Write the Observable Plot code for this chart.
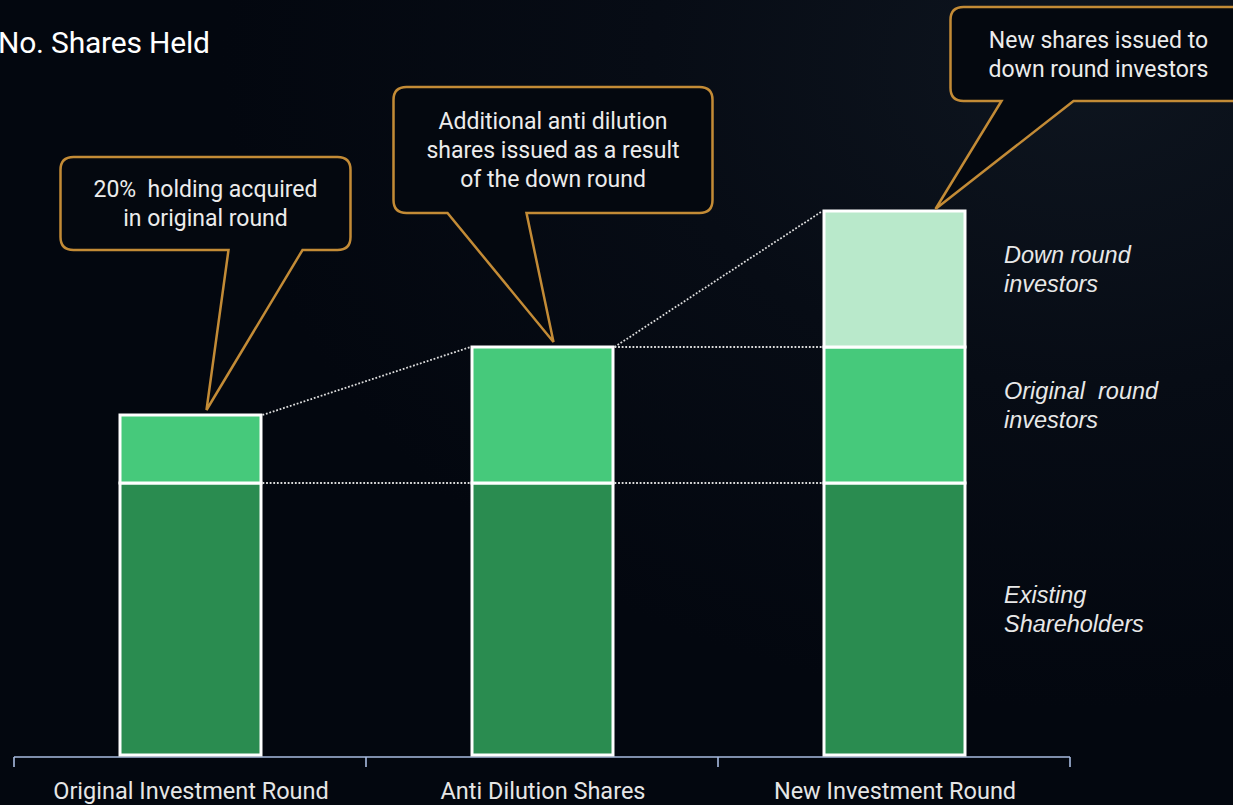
<!DOCTYPE html>
<html>
<head>
<meta charset="utf-8">
<script src="https://cdn.jsdelivr.net/npm/d3@7"></script>
<script src="https://cdn.jsdelivr.net/npm/@observablehq/plot@0.6"></script>
<style>
html, body { margin: 0; padding: 0; }
body {
  width: 1233px; height: 805px; overflow: hidden; position: relative;
  background: radial-gradient(ellipse 70% 80% at 88% 8%, #0e151f 0%, #070c15 50%, #03070f 100%);
  font-family: Roboto, "Noto Sans", sans-serif;
}
#chart { position: absolute; left: 0; top: 0; }
#title {
  position: absolute; left: -2px; top: 25px;
  font-size: 30px; line-height: 35px; color: #ffffff; letter-spacing: -0.2px;
}
</style>
</head>
<body>
<div id="chart"></div>
<div id="title">No. Shares Held</div>
<script>
// ---- data ----
const rounds = ["Original Investment Round", "Anti Dilution Shares", "New Investment Round"];
const groups = ["Existing Shareholders", "Original round investors", "Down round investors"];
const existing = [80, 80, 80];
const originalRound = [20, 40, 40];
const downRound = [0, 0, 40];
const segmentLabels = ["Existing\nShareholders", "Original\u00a0 round\ninvestors", "Down round\ninvestors"];
const calloutTexts = [
  "20%\u00a0 holding acquired\nin original round",
  "Additional anti dilution\nshares issued as a result\nof the down round",
  "New shares issued to\ndown round investors"
];

// ---- styles / layout ----
const groupColors = ["#2a8c50", "#46c97b", "#b9e9cb"];
const calloutLayout = [
  {tip: [16, -5], box: [-146, -253, 144, -160], tail: [22, 96]},
  {tip: [11, -5], box: [-160, -255, 159, -129], tail: [-106, -27]},
  {tip: [41, -2], box: [15, -202, 311, -108], tail: [66, 138]}
];

const series = [existing, originalRound, downRound];
const table = [];
rounds.forEach((r, i) => {
  groups.forEach((g, j) => {
    if (series[j][i] > 0) table.push({round: r, group: g, value: series[j][i]});
  });
});
const totals = rounds.map((r, i) => series.reduce((s, a) => s + a[i], 0));
const levels = rounds.map((r, i) => {
  let c = 0; const out = [];
  series.forEach(a => { if (a[i] > 0) { c += a[i]; out.push(c); } });
  return out;
});

// axis line + boundary ticks
function axisMark(index, scales) {
  const x = scales.x, y = scales.y;
  const [r0, r1] = x.range();
  const step = x.step();
  const y0 = y(0) + 2;
  const g = d3.create("svg:g").attr("stroke", "#a9bce0").attr("stroke-width", 1.6).attr("fill", "none");
  g.append("line").attr("x1", r0).attr("x2", r1).attr("y1", y0).attr("y2", y0);
  for (let i = 0; i <= rounds.length; i++) {
    const xx = r0 + i * step;
    g.append("line").attr("x1", xx).attr("x2", xx).attr("y1", y0).attr("y2", y0 + 10);
  }
  return g.node();
}

// dotted connectors between bars
function connectorMark(index, scales) {
  const x = scales.x, y = scales.y;
  const bw = x.bandwidth();
  const g = d3.create("svg:g").attr("stroke", "#dcdcdc").attr("stroke-width", 1.8)
    .attr("stroke-dasharray", "1.8 1.8").attr("fill", "none");
  for (let i = 0; i < rounds.length - 1; i++) {
    const xa = x(rounds[i]) + bw + 1.5, xb = x(rounds[i + 1]) - 1.5;
    levels[i].forEach(v => {
      if (levels[i + 1].includes(v)) {
        g.append("line").attr("x1", xa).attr("x2", xb).attr("y1", y(v)).attr("y2", y(v));
      }
    });
    if (totals[i] !== totals[i + 1]) {
      g.append("line").attr("x1", xa).attr("x2", xb).attr("y1", y(totals[i])).attr("y2", y(totals[i + 1]));
    }
  }
  return g.node();
}

// speech-bubble callouts
function calloutMark(index, scales) {
  const x = scales.x, y = scales.y;
  const bw = x.bandwidth();
  const g = d3.create("svg:g");
  rounds.forEach((r, i) => {
    const L = calloutLayout[i];
    const tx = x(r) + bw / 2 + L.tip[0], ty = y(totals[i]) + L.tip[1];
    const x0 = tx + L.box[0], y0 = ty + L.box[1], x1 = tx + L.box[2], y1 = ty + L.box[3];
    const ba = tx + L.tail[0], bb = tx + L.tail[1];
    const rr = 13;
    const p = `M${x0 + rr},${y0} H${x1 - rr} Q${x1},${y0} ${x1},${y0 + rr} V${y1 - rr} Q${x1},${y1} ${x1 - rr},${y1} ` +
      `H${bb} L${tx},${ty} L${ba},${y1} H${x0 + rr} Q${x0},${y1} ${x0},${y1 - rr} V${y0 + rr} Q${x0},${y0} ${x0 + rr},${y0} Z`;
    g.append("path").attr("d", p).attr("fill", "#04080f").attr("stroke", "#c38b36")
      .attr("stroke-width", 2.5).attr("stroke-linejoin", "miter");
    const lines = calloutTexts[i].split("\n");
    const cx = (x0 + x1) / 2, cy = (y0 + y1) / 2, lh = 29;
    const t = g.append("text").attr("text-anchor", "middle").attr("fill", "#ececec")
      .attr("font-size", 23);
    lines.forEach((s, k) => {
      t.append("tspan").attr("x", cx).attr("y", cy + (k - (lines.length - 1) / 2) * lh).attr("dy", "0.36em").text(s);
    });
  });
  return g.node();
}

const lastRound = rounds[rounds.length - 1];

const plot = Plot.plot({
  width: 1233,
  height: 805,
  marginLeft: 14,
  marginRight: 163,
  marginTop: 75,
  marginBottom: 50,
  style: {background: "transparent", color: "#e6e6e6", fontFamily: "Roboto, sans-serif", fontSize: "23.5px"},
  x: {domain: rounds, paddingInner: 0.6, paddingOuter: 0.3, tickSize: 0, tickPadding: 27, label: null},
  y: {domain: [0, 200], axis: null},
  color: {domain: groups, range: groupColors},
  marks: [
    axisMark,
    Plot.barY(table, {x: "round", y: "value", fill: "group", stroke: "#ffffff", strokeWidth: 3}),
    connectorMark,
    Plot.text(table.filter(d => d.round === lastRound), Plot.stackY({
      x: "round", y: "value", z: "group",
      text: d => segmentLabels[groups.indexOf(d.group)],
      textAnchor: "start", dx: 109, dy: -11,
      fontFamily: "Liberation Sans, Arial, sans-serif",
      fontStyle: "italic", fontSize: 23.5, lineHeight: 1.23, fill: "#e8e8e8"
    })),
    calloutMark
  ]
});
document.getElementById("chart").appendChild(plot);
</script>
</body>
</html>
